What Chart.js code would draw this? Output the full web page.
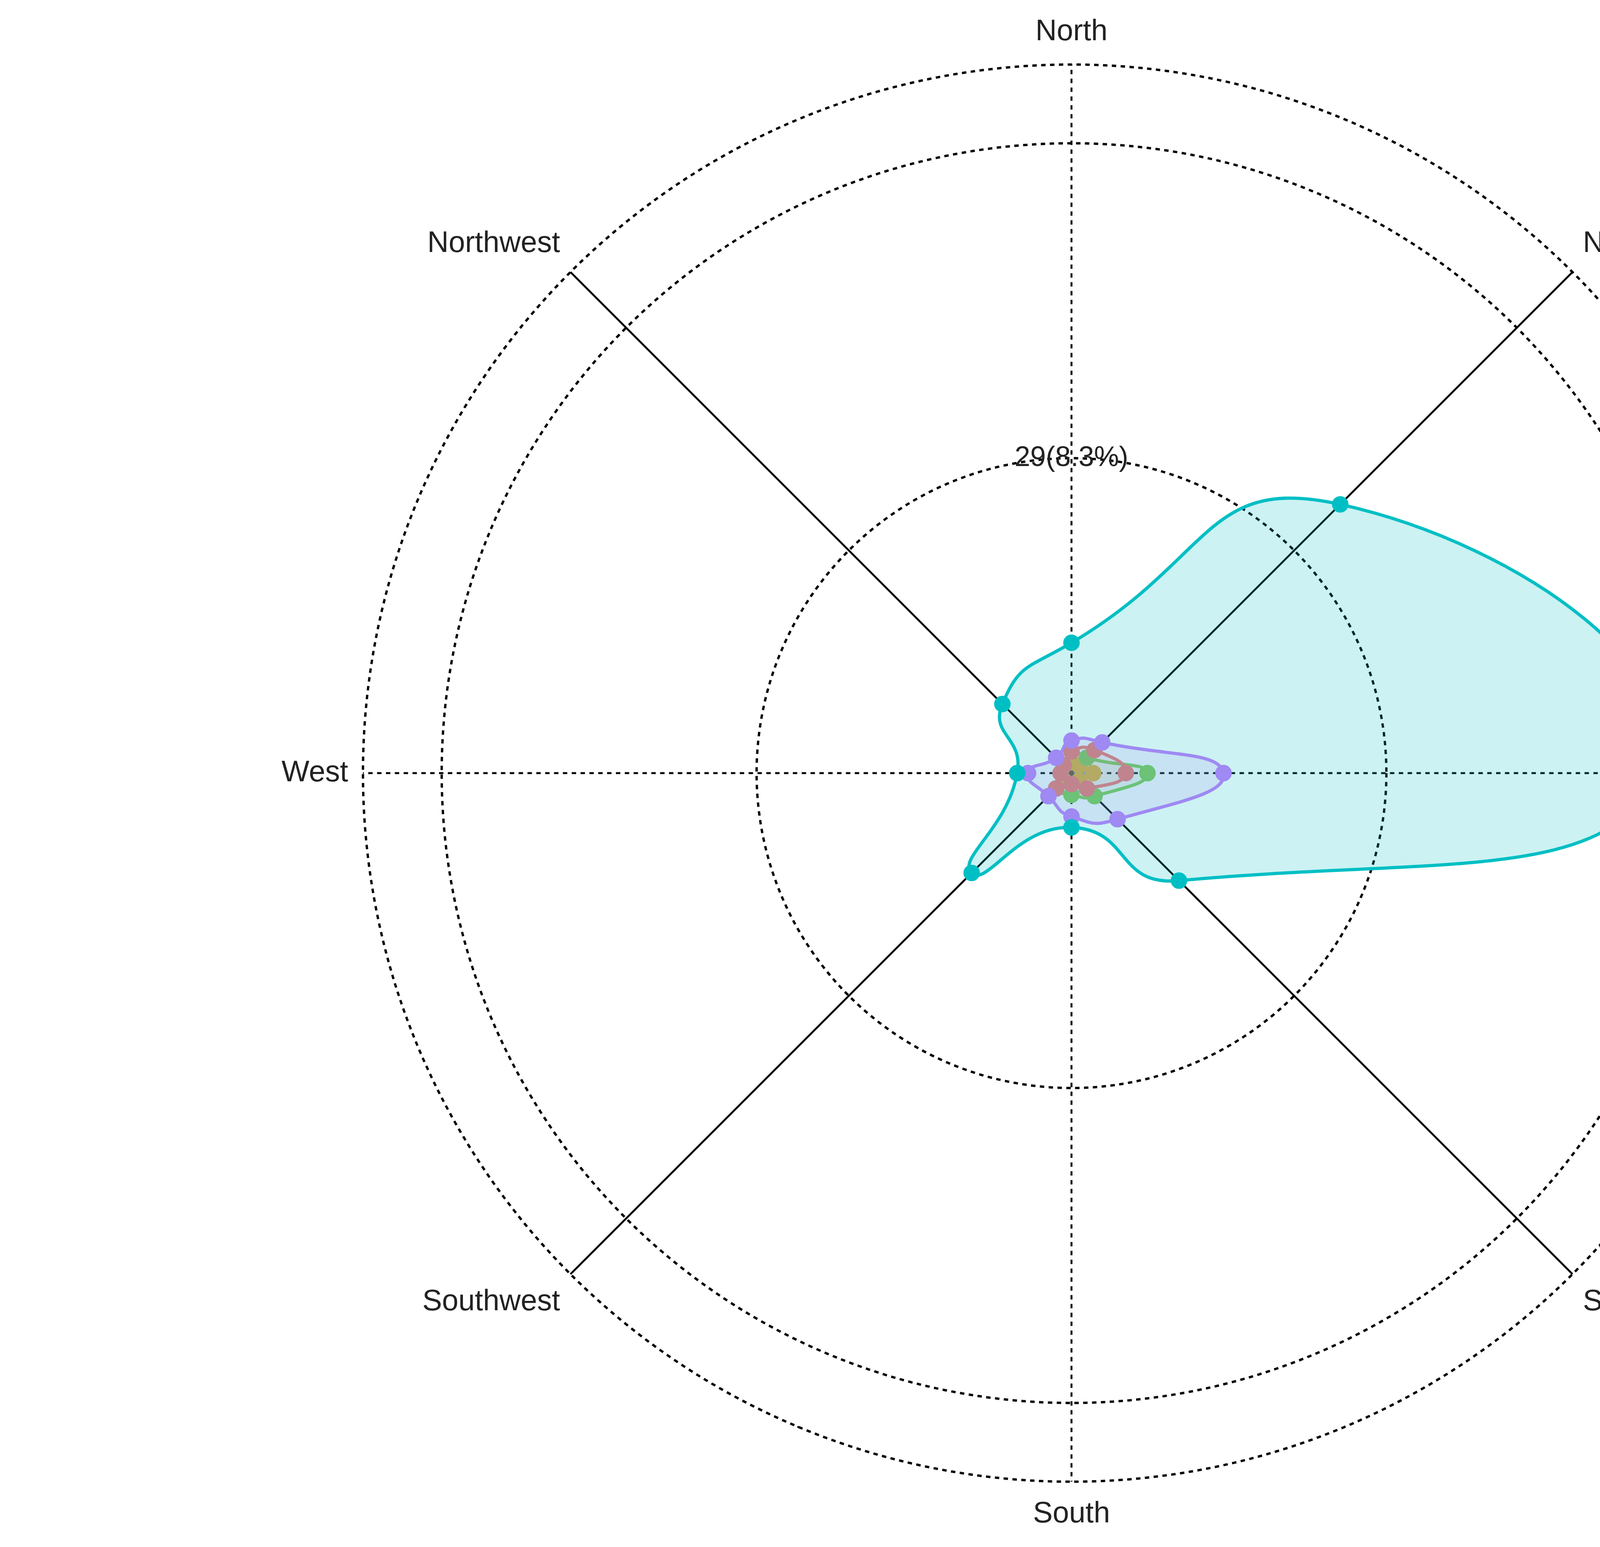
<!DOCTYPE html>
<html><head><meta charset="utf-8">
<script src="https://cdn.jsdelivr.net/npm/chart.js@4"></script>
<style>body{margin:0;background:#fff;overflow:hidden}canvas{display:block}</style>
</head><body><canvas id="c" width="5850" height="3960" style="width:5850px;height:3960px"></canvas>
<script>
var S = 5850 / 1550;
var directions = ["North", "Northeast", "East", "Southeast", "South", "Southwest", "West", "Northwest"];
var passeriformes = [12, 35, 54, 14, 5, 13, 5, 9];
var charadriiformes = [3, 4, 14, 6, 4, 3, 4, 2];
var accipitriformes = [2, 3, 5, 2, 1, 2, 1, 1];
var anseriformes = [2, 2, 7, 3, 2, 2, 1, 1];
var pelecaniformes = [1, 1, 2, 1, 1, 1, 1, 1];
var columbiformes = [1, 1, 1, 1, 1, 1, 1, 1];
var ringTicks = [0, 29, 58, 65.25];

function ds(label, data, color, fill) {
    return {label: label, data: data, borderColor: color, backgroundColor: fill,
        pointBackgroundColor: color, pointBorderColor: color, fill: true,
        borderWidth: 2.2 * S, pointRadius: 4.5 * S, tension: 0.55};
}

Chart.defaults.font.family = "Liberation Sans, Arial";
new Chart("c", {
    type: "radar",
    data: {
        labels: directions,
        datasets: [
            ds("Passeriformes", passeriformes, "#00BFC4", "rgba(0,191,196,0.2)"),
            ds("Charadriiformes", charadriiformes, "#C77CFF", "rgba(199,124,255,0.15)"),
            ds("Accipitriformes", accipitriformes, "#F8766D", "rgba(248,118,109,0.1)"),
            ds("Anseriformes", anseriformes, "#7CD14A", "rgba(124,209,74,0.1)"),
            ds("Pelecaniformes", pelecaniformes, "#F0B323", "rgba(240,179,35,0.3)"),
            ds("Columbiformes", columbiformes, "#619CFF", "rgba(97,156,255,0.1)")
        ]
    },
    options: {
        responsive: false, devicePixelRatio: 1, animation: false,
        layout: {padding: {left: 120 * S, right: 40 * S, top: 10 * S, bottom: 10 * S}},
        plugins: {
            legend: {position: "right", labels: {font: {size: 19 * S}, color: "#222",
                boxWidth: 22 * S, boxHeight: 22 * S, padding: 7 * S}},
            tooltip: {enabled: false}
        },
        scales: {
            r: {
                min: 0, max: 65.25,
                afterBuildTicks: function(a) { a.ticks = ringTicks.map(function(v){ return {value: v}; }); },
                ticks: {backdropColor: "rgba(0,0,0,0)", color: "#222", font: {size: 19 * S},
                    callback: function(v) { return v == 29 ? "29(8.3%)" : ""; }},
                grid: {circular: true, color: "#000", lineWidth: 1.6 * S},
                border: {dash: [3 * S, 3 * S]},
                angleLines: {color: "#000", lineWidth: 1.3 * S,
                    borderDash: function(ctx) { return ctx.index % 2 == 0 ? [3 * S, 3 * S] : []; }},
                pointLabels: {color: "#222", font: {size: 20 * S}, padding: 0}
            }
        }
    }
});
</script></body></html>
